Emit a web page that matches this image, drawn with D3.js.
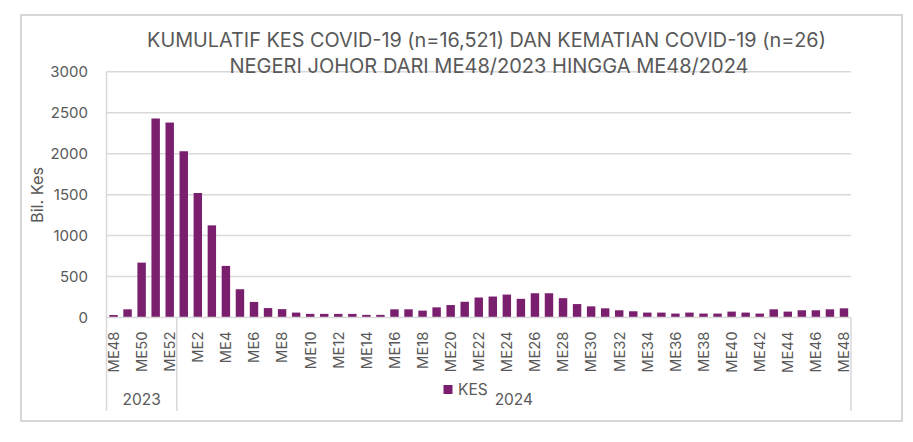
<!DOCTYPE html>
<html><head><meta charset="utf-8">
<script src="https://cdn.jsdelivr.net/npm/d3@7"></script>
<style>
html,body{margin:0;padding:0;background:#fff;}
svg{display:block;font-family:Inter,"Liberation Sans",sans-serif;}
</style></head>
<body><svg id="c" width="913" height="442"></svg>
<script>
const weeks2023 = ["ME48","ME49","ME50","ME51","ME52"];
const weeks2024 = ["ME1","ME2","ME3","ME4","ME5","ME6","ME7","ME8","ME9","ME10","ME11","ME12","ME13","ME14","ME15","ME16","ME17","ME18","ME19","ME20","ME21","ME22","ME23","ME24","ME25","ME26","ME27","ME28","ME29","ME30","ME31","ME32","ME33","ME34","ME35","ME36","ME37","ME38","ME39","ME40","ME41","ME42","ME43","ME44","ME45","ME46","ME47","ME48"];
const kes2023 = [30,100,670,2430,2380];
const kes2024 = [2030,1520,1125,630,345,190,115,102,60,44,44,44,44,32,32,100,100,84,124,152,192,244,256,280,228,296,296,236,164,136,112,88,76,60,60,48,60,48,48,72,60,48,100,72,88,88,100,112];
const yTicks = [0,500,1000,1500,2000,2500,3000];
const titleLines = ["KUMULATIF KES COVID-19 (n=16,521) DAN KEMATIAN COVID-19 (n=26)","NEGERI JOHOR DARI ME48/2023 HINGGA ME48/2024"];
const seriesName = "KES";
const years = ["2023","2024"];

const data = [
  ...weeks2023.map((w,i)=>({key:"2023-"+w, label:w, year:"2023", v:kes2023[i]})),
  ...weeks2024.map((w,i)=>({key:"2024-"+w, label:w, year:"2024", v:kes2024[i]}))
];

const svg = d3.select("#c");
const txt = "#595959", grid = "#d9d9d9", barColor = "#7a1f6e";
const L = 106.5, R = 851, T = 71.8, B = 317.5;
const FF = "Inter,'Liberation Sans',sans-serif";

function fit(sel, base, target){
  const w = sel.node().getComputedTextLength();
  const fs = base*target/w;
  sel.style("font-size", fs.toFixed(2)+"px");
  return fs;
}

// outer border
svg.append("rect").attr("x",21).attr("y",15).attr("width",881).attr("height",406)
  .attr("fill","#fff").attr("stroke","#d6d6d6").attr("stroke-width",2);

const x = d3.scaleBand().domain(data.map(d=>d.key)).range([L,R]).paddingInner(0.4).paddingOuter(0.2);
const y = d3.scaleLinear().domain([0,3000]).range([B,T]);

// gridlines
svg.append("g").selectAll("line").data(yTicks.filter(t=>t>0)).join("line")
  .attr("x1",L).attr("x2",R).attr("y1",d=>y(d)).attr("y2",d=>y(d))
  .attr("stroke",grid).attr("stroke-width",1.5);

// y axis labels
const yAxis = d3.axisLeft(y).tickValues(yTicks).tickSize(0).tickPadding(0).tickFormat(d3.format("d"));
const ya = svg.append("g").attr("transform",`translate(88,0)`).call(yAxis);
ya.select(".domain").remove();
ya.selectAll("text").attr("fill",txt).style("font-size","15px").style("font-family",FF);

// y title
const yt = svg.append("text").attr("transform","translate(43,195) rotate(-90)").attr("text-anchor","middle")
  .attr("fill",txt).style("font-size","14px").text("Bil. Kes");
fit(yt,14,56);

// bars
svg.append("g").selectAll("rect").data(data).join("rect")
  .attr("x",d=>x(d.key)).attr("width",x.bandwidth())
  .attr("y",d=>y(d.v)).attr("height",d=>y(0)-y(d.v))
  .attr("fill",barColor);

// axis lines
svg.append("line").attr("x1",L).attr("x2",R).attr("y1",B).attr("y2",B).attr("stroke",grid).attr("stroke-width",1.5);
const sep = [L, x(data[weeks2023.length].key) - x.step()*x.paddingInner()/2, R];
svg.append("g").selectAll("line").data(sep).join("line")
  .attr("x1",d=>d).attr("x2",d=>d).attr("y1",(d,i)=>i===0?T:B).attr("y2",411)
  .attr("stroke",grid).attr("stroke-width",1.5);

// category labels (every other)
const xAxis = d3.axisBottom(x).tickSize(0).tickFormat(k=>data.find(d=>d.key===k).label)
  .tickValues(data.filter((d,i)=>i%2===0).map(d=>d.key));
const xa = svg.append("g").attr("transform",`translate(0,${B})`).call(xAxis);
xa.select(".domain").remove();
const xl = xa.selectAll("text").attr("fill",txt).style("font-size","15px").style("font-family",FF)
  .attr("transform","rotate(-90)").attr("text-anchor","end").attr("x",-14).attr("y",0).attr("dy","0.36em");
const fsx = fit(xa.select("text"),15,41);
xl.style("font-size",fsx.toFixed(2)+"px");

// year labels
svg.append("g").selectAll("text").data(years).join("text")
  .attr("x",(d,i)=>(sep[i]+sep[i+1])/2).attr("y",405).attr("text-anchor","middle")
  .attr("fill",txt).style("font-size","15.5px").text(d=>d);

// legend
svg.append("rect").attr("x",443.5).attr("y",385).attr("width",9).attr("height",9).attr("fill",barColor);
svg.append("text").attr("x",458).attr("y",395).attr("fill",txt).style("font-size","15.5px").text(seriesName);

// title
const tw = [679, 519];
const tc = [486.5, 489];
titleLines.forEach((t,i)=>{
  const el = svg.append("text").attr("x",tc[i]).attr("y",i===0?47:73).attr("text-anchor","middle")
    .attr("fill",txt).style("font-size","17px").text(t);
  fit(el,17,tw[i]);
});
</script></body></html>
